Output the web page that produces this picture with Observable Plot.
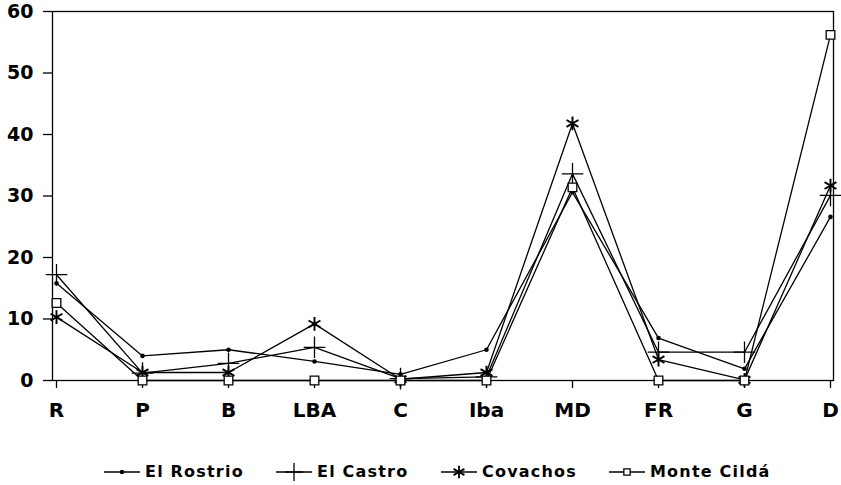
<!DOCTYPE html>
<html><head><meta charset="utf-8">
<script src="https://cdn.jsdelivr.net/npm/d3@7"></script>
<script src="https://cdn.jsdelivr.net/npm/@observablehq/plot@0.6"></script>
<style>
body{margin:0;background:#fff;font-family:"DejaVu Sans",sans-serif;position:relative;width:841px;height:485px;overflow:hidden;}
#legend{position:absolute;left:0;top:462px;width:841px;height:20px;font-weight:bold;font-size:16px;letter-spacing:1.2px;}
#legend .item{position:absolute;top:0;display:flex;align-items:center;gap:5px;white-space:nowrap;}
</style></head><body>
<div id="chart"></div>
<div id="legend"></div>
<script>
const categories = ["R","P","B","LBA","C","Iba","MD","FR","G","D"];
const seriesNames = ["El Rostrio","El Castro","Covachos","Monte Cildá"];
const elRostrio  = [15.8, 4.0, 5.0, 3.1, 1.0, 5.0, 30.6, 6.9, 1.9, 26.6];
const elCastro   = [17.2, 1.2, 2.8, 5.4, 0.3, 0.6, 33.6, 4.6, 4.6, 30.1];
const covachos   = [10.3, 1.3, 1.3, 9.2, 0.2, 1.3, 41.8, 3.4, 0.1, 31.7];
const monteCilda = [12.6, 0.0, 0.0, 0.0, 0.0, 0.0, 31.4, 0.0, 0.0, 56.2];
const yTicks = [0,10,20,30,40,50,60];

const valuesBySeries = [elRostrio, elCastro, covachos, monteCilda];
const data = seriesNames.flatMap((s,i) => categories.map((c,j) => ({series:s, cat:c, v:valuesBySeries[i][j]})));
const sel = s => data.filter(d => d.series === s);

const chart = Plot.plot({
  width: 841, height: 430,
  marginLeft: 52, marginRight: 8, marginTop: 11, marginBottom: 50,
  style: {fontFamily: "DejaVu Sans, sans-serif", fontWeight: "bold", color: "#000", background: "#fff", overflow: "visible"},
  x: {type: "point", domain: categories, padding: 0},
  y: {domain: [0, 60]},
  marks: [
    Plot.frame({stroke: "#000", strokeWidth: 1.3}),
    Plot.axisY({ticks: yTicks, tickSize: 9, tickPadding: 10, fontSize: 19, label: null, stroke: "#000", strokeWidth: 1.3}),
    Plot.axisX({tickSize: 8, tickPadding: 14, fontSize: 20, label: null, stroke: "#000", strokeWidth: 1.3}),
    Plot.line(data, {x: "cat", y: "v", z: "series", stroke: "#000", strokeWidth: 1.3}),
    Plot.dot(sel("El Rostrio"), {x: "cat", y: "v", r: 2.3, fill: "#000", stroke: "none"}),
    Plot.dot(sel("El Castro"), {x: "cat", y: "v", symbol: "plus", r: 7, stroke: "#000", strokeWidth: 1.3}),
    Plot.dot(sel("Covachos"), {x: "cat", y: "v", symbol: "asterisk", r: 6.5, stroke: "#000", strokeWidth: 1.9}),
    Plot.dot(sel("Monte Cildá"), {x: "cat", y: "v", symbol: "square2", r: 5.5, stroke: "#000", fill: "#fff", strokeWidth: 1.3})
  ]
});
document.getElementById("chart").append(chart);

// legend
const legend = d3.select("#legend");
const symbols = [null, d3.symbolPlus, d3.symbolAsterisk, d3.symbolSquare2];
const legendLeft = [104, 276, 441, 609];
seriesNames.forEach((name, i) => {
  const item = legend.append("div").attr("class", "item").style("left", legendLeft[i] + "px");
  const svg = item.append("svg").attr("width", 36).attr("height", 18);
  svg.append("line").attr("x1", 0).attr("x2", 36).attr("y1", 9).attr("y2", 9).attr("stroke", "#000").attr("stroke-width", 1.5);
  if (i === 0) {
    svg.append("circle").attr("cx", 18).attr("cy", 9).attr("r", 2.2).attr("fill", "#000");
  } else {
    svg.append("path").attr("transform", "translate(18,9)")
      .attr("d", d3.symbol(symbols[i], i === 3 ? 50 : 110)())
      .attr("fill", i === 3 ? "#fff" : "none").attr("stroke", "#000").attr("stroke-width", i === 2 ? 1.8 : 1.3);
  }
  item.append("span").text(name);
});
</script>
</body></html>
